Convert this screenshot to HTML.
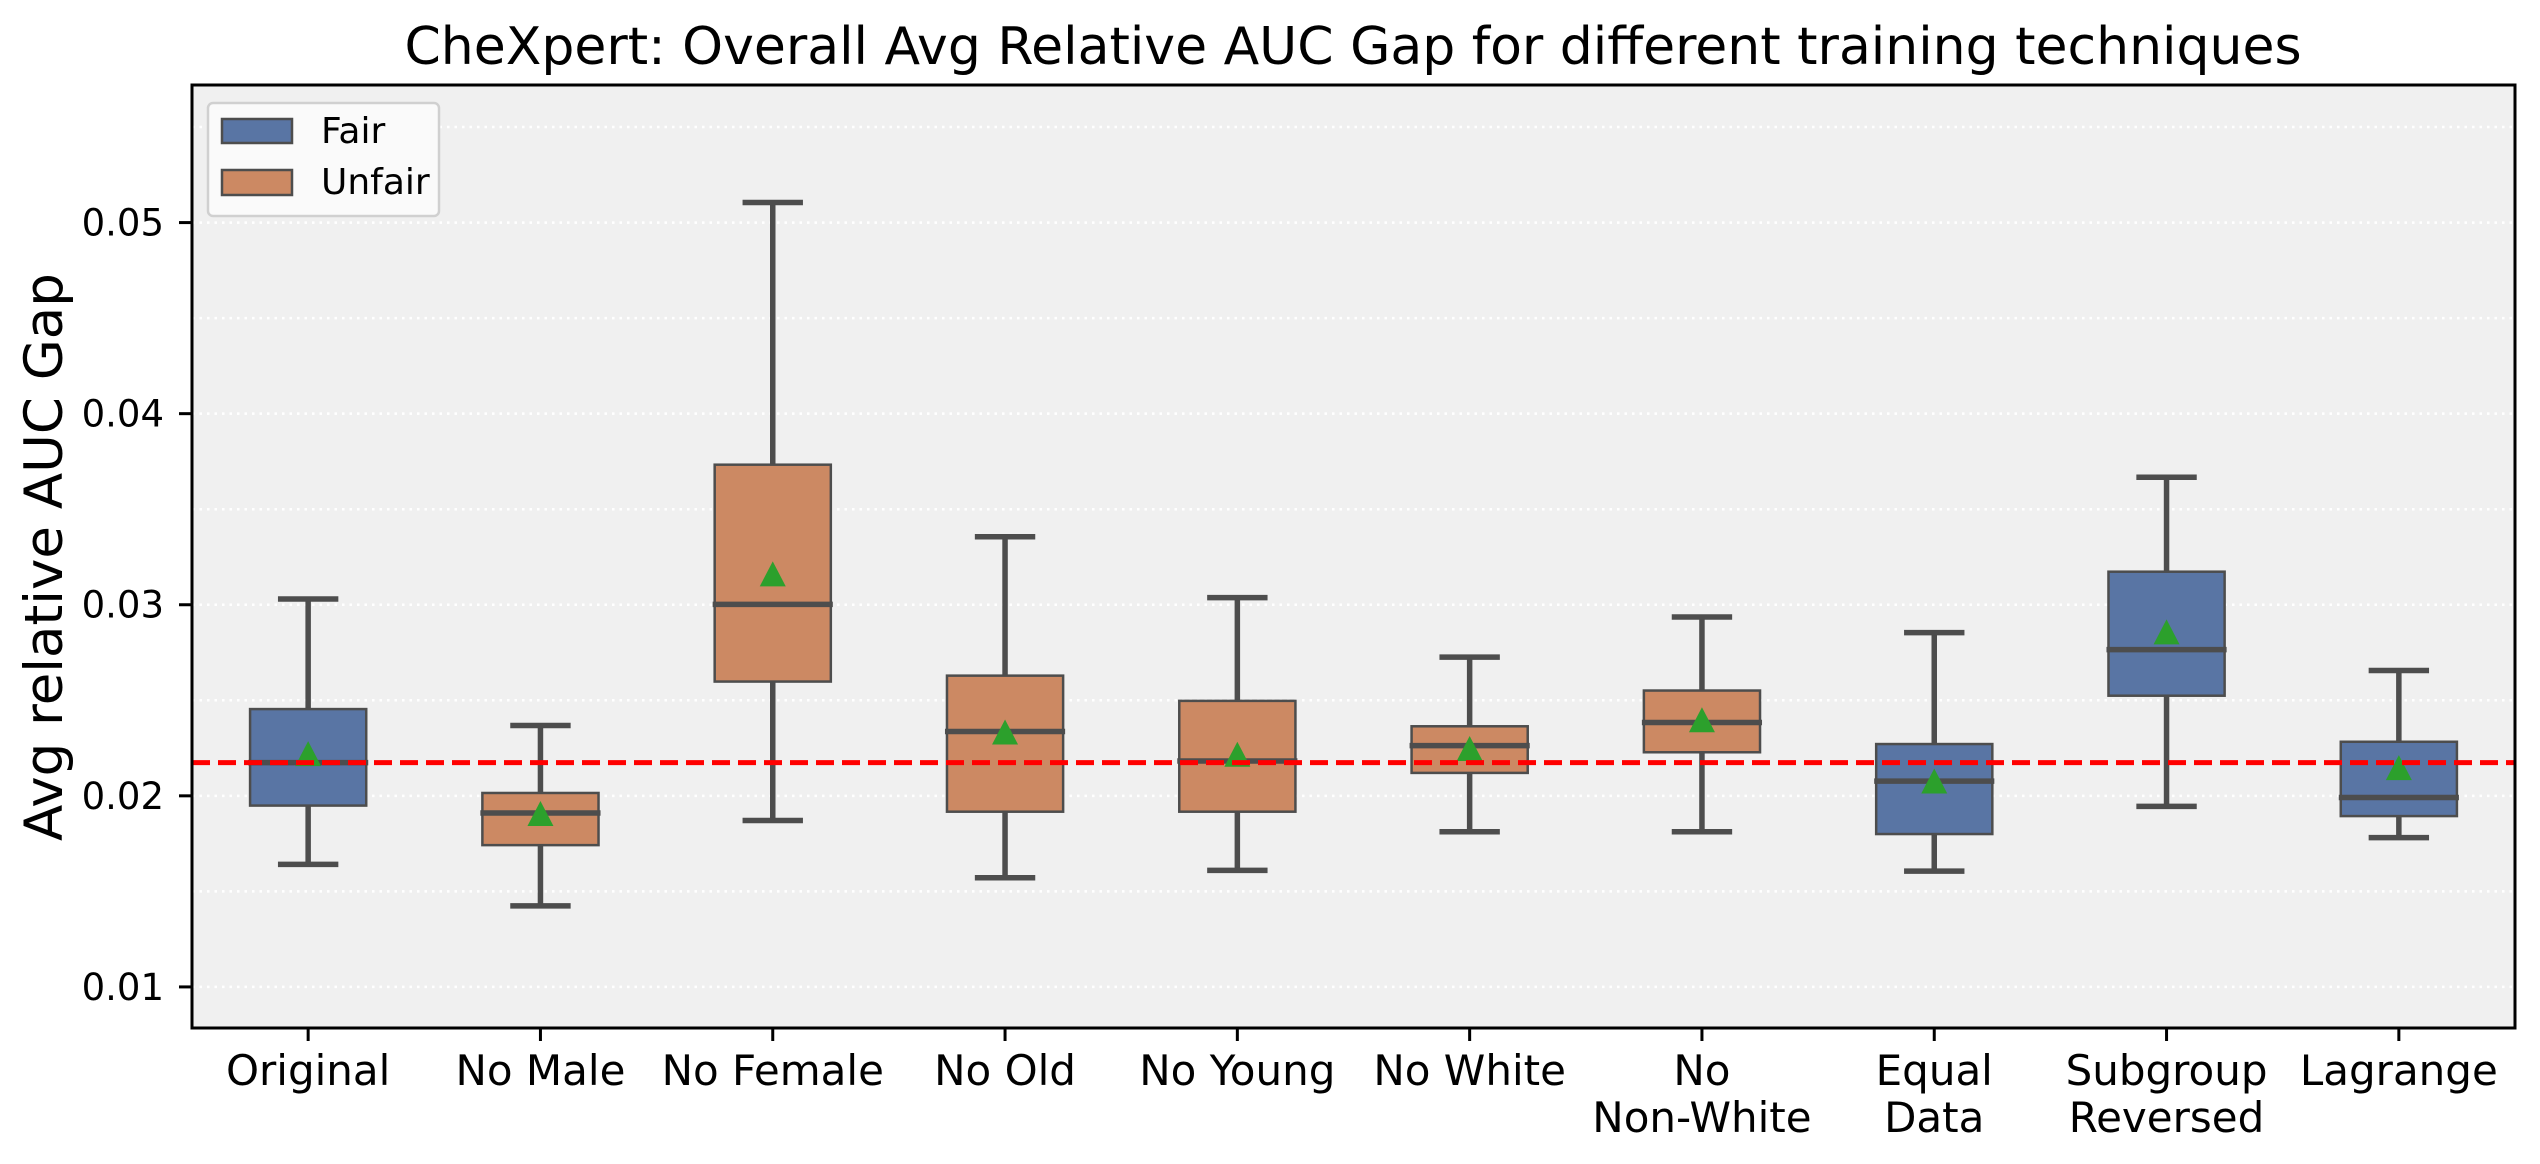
<!DOCTYPE html>
<html><head><meta charset="utf-8"><style>
html,body{margin:0;padding:0;background:#fff;}
svg{display:block;font-family:"DejaVu Sans","Liberation Sans",sans-serif;}
</style></head><body>
<svg id="chart" width="2540" height="1164" viewBox="0 0 2540 1164" xmlns="http://www.w3.org/2000/svg">
<text x="1353" y="64" font-size="52" text-anchor="middle" fill="#000">CheXpert: Overall Avg Relative AUC Gap for different training techniques</text>
<rect x="192" y="85" width="2323" height="943" fill="#f0f0f0"/>
<g id="grid"></g>
<g id="boxes"></g>
<g id="axes"></g>
<text transform="translate(62,557) rotate(-90)" font-size="53" text-anchor="middle" fill="#000">Avg relative AUC Gap</text>
<g>
<rect x="208" y="103" width="231" height="113" rx="5" fill="#fafafa" stroke="#d0d0d0" stroke-width="2.5"/>
<rect x="222" y="119" width="70" height="24" fill="#5975a4" stroke="#4d4d4d" stroke-width="2.5"/>
<text x="321" y="143" font-size="36" fill="#000">Fair</text>
<rect x="222" y="170" width="70" height="25" fill="#cc8963" stroke="#4d4d4d" stroke-width="2.5"/>
<text x="321" y="194" font-size="36" fill="#000">Unfair</text>
</g>
</svg>
<script>
const categories = ["Original","No Male","No Female","No Old","No Young","No White","No\nNon-White","Equal\nData","Subgroup\nReversed","Lagrange"];
const groups = ["Fair","Unfair","Unfair","Unfair","Unfair","Unfair","Unfair","Fair","Fair","Fair"];
const whiskLow = [0.01641,0.01424,0.01871,0.01571,0.0161,0.01812,0.01812,0.01606,0.01945,0.01781];
const q1 = [0.01949,0.01742,0.02598,0.01917,0.01917,0.0212,0.02228,0.018,0.02524,0.01894];
const median = [0.02174,0.0191,0.03002,0.02337,0.02182,0.02263,0.02384,0.02077,0.02765,0.01991];
const q3 = [0.02454,0.02015,0.03733,0.02629,0.02497,0.02364,0.02551,0.02271,0.03173,0.02283];
const whiskHigh = [0.0303,0.02368,0.05105,0.03356,0.03037,0.02726,0.02936,0.02854,0.03667,0.02656];
const means = [0.02213,0.0190,0.03154,0.02326,0.0221,0.0224,0.0239,0.0207,0.0285,0.0214];
const refLine = 0.02174;
const yTicks = [0.01,0.02,0.03,0.04,0.05];
const yTickLabels = ["0.01","0.02","0.03","0.04","0.05"];
const gridVals = [0.01,0.015,0.02,0.025,0.03,0.035,0.04,0.045,0.05,0.055];

const NS="http://www.w3.org/2000/svg";
const L=192,R=2515,T=85,B=1028;
const yMin=0.00785,yMax=0.0572;
function y(v){return B-(v-yMin)/(yMax-yMin)*(B-T);}
const step=(R-L)/categories.length;
function x(i){return L+step*(i+0.5);}
function mk(tag,attrs,parent){const e=document.createElementNS(NS,tag);for(const k in attrs)e.setAttribute(k,attrs[k]);parent.appendChild(e);return e;}
const grid=document.getElementById('grid'),boxes=document.getElementById('boxes'),axes=document.getElementById('axes');
gridVals.forEach(v=>{
  const g=mk('line',{x1:L,x2:R,y1:y(v),y2:y(v),stroke:'#ffffff','stroke-width':2.5,'stroke-dasharray':'2.5 5'},grid);
  
  
});
const bw=step*0.5, cw=bw*0.52, lc='#4d4d4d', lw=5.5;
categories.forEach((c,i)=>{
  const cx=x(i);
  const g=mk('g',{},boxes);
  
  
  mk('line',{x1:cx,x2:cx,y1:y(whiskHigh[i]),y2:y(q3[i]),stroke:lc,'stroke-width':lw},g);
  mk('line',{x1:cx,x2:cx,y1:y(q1[i]),y2:y(whiskLow[i]),stroke:lc,'stroke-width':lw},g);
  mk('line',{x1:cx-cw/2,x2:cx+cw/2,y1:y(whiskHigh[i]),y2:y(whiskHigh[i]),stroke:lc,'stroke-width':lw},g);
  mk('line',{x1:cx-cw/2,x2:cx+cw/2,y1:y(whiskLow[i]),y2:y(whiskLow[i]),stroke:lc,'stroke-width':lw},g);
  mk('rect',{x:cx-bw/2,y:y(q3[i]),width:bw,height:y(q1[i])-y(q3[i]),fill:groups[i]==='Fair'?'#5975a4':'#cc8963',stroke:lc,'stroke-width':2.5},g);
  mk('line',{x1:cx-bw/2-2,x2:cx+bw/2+2,y1:y(median[i]),y2:y(median[i]),stroke:lc,'stroke-width':lw},g);
  const my=y(means[i]);
  const tri=mk('polygon',{points:`${cx},${my-14} ${cx-13},${my+11} ${cx+13},${my+11}`,fill:'#2ca02c'},g);
  
  
  mk('line',{x1:cx,x2:cx,y1:B,y2:B+13,stroke:'#000','stroke-width':3},axes);
  const lines=c.split('\n');
  lines.forEach((ln,k)=>{
    const t=mk('text',{x:cx,y:1085+k*47,'font-size':42,'text-anchor':'middle',fill:'#000'},axes);
    t.textContent=ln;
    
    
  });
});
const ref=mk('line',{x1:L,x2:R,y1:y(refLine),y2:y(refLine),stroke:'#ff0000','stroke-width':5,'stroke-dasharray':'18 8'},boxes);


yTicks.forEach((v,i)=>{
  mk('line',{x1:L-13,x2:L,y1:y(v),y2:y(v),stroke:'#000','stroke-width':3},axes);
  const t=mk('text',{x:164,y:y(v)+13,'font-size':37,'text-anchor':'end',fill:'#000'},axes);
  t.textContent=yTickLabels[i];
  
  
});
const fr=mk('rect',{x:L,y:T,width:R-L,height:B-T,fill:'none',stroke:'#000','stroke-width':3},axes);


</script>
</body></html>
